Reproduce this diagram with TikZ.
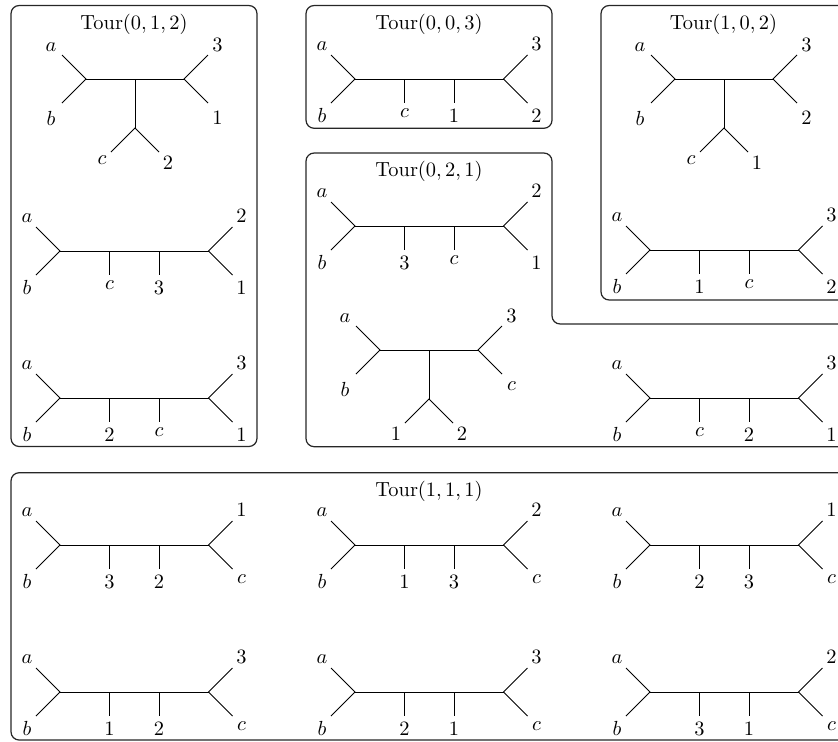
\documentclass[tikz,border=0pt]{standalone}
\tikzset{
  tree/.style={line width=0.45pt, black},
  tourbox/.style={line width=0.6pt, draw=black!85, rounded corners=4pt},
  lab/.style={inner sep=0pt, outer sep=0pt},
  tourtitle/.style={anchor=base, inner sep=0pt},
}
% caterpillar tree: name, x, y, tick1, tick2, right-top, right-bottom
\newcommand\cattree[7]{%
\begin{scope}[shift={(#2,#3)}]
  \coordinate (#1L) at (0,0);
  \coordinate (#1R) at (148.5,0);
  \coordinate (#1T1) at (49.5,0);
  \coordinate (#1T2) at (99,0);
  \coordinate (#1ea) at (-24,-24);
  \coordinate (#1eb) at (-24,24);
  \coordinate (#1ec) at (172.5,-24);
  \coordinate (#1ed) at (172.5,24);
  \coordinate (#1e1) at (49.5,24);
  \coordinate (#1e2) at (99,24);
  \draw[tree] (#1ea) -- (#1L) -- (#1eb);
  \draw[tree] (#1L) -- (#1R);
  \draw[tree] (#1ec) -- (#1R) -- (#1ed);
  \draw[tree] (#1T1) -- (#1e1);
  \draw[tree] (#1T2) -- (#1e2);
  \node[lab,anchor=south] (#1la) at (-33,-28.5) {$a$};
  \node[lab,anchor=north] (#1lb) at (-33,29.5) {$b$};
  \node[lab,anchor=north] (#1l1) at (49.5,29.5) {#4};
  \node[lab,anchor=north] (#1l2) at (99,29.5) {#5};
  \node[lab,anchor=south] (#1lc) at (181.5,-28.5) {#6};
  \node[lab,anchor=north] (#1ld) at (181.5,29.5) {#7};
\end{scope}}
% T-shaped tree: name, x, y, right-top, right-bottom, lower-left, lower-right
\newcommand\ttree[7]{%
\begin{scope}[shift={(#2,#3)}]
  \coordinate (#1L) at (0,0);
  \coordinate (#1R) at (98,0);
  \coordinate (#1M) at (49,0);
  \coordinate (#1B) at (49,49);
  \coordinate (#1ea) at (-24,-24);
  \coordinate (#1eb) at (-24,24);
  \coordinate (#1ec) at (122,-24);
  \coordinate (#1ed) at (122,24);
  \coordinate (#1ee) at (25,73);
  \coordinate (#1ef) at (73,73);
  \draw[tree] (#1ea) -- (#1L) -- (#1eb);
  \draw[tree] (#1L) -- (#1R);
  \draw[tree] (#1ec) -- (#1R) -- (#1ed);
  \draw[tree] (#1M) -- (#1B);
  \draw[tree] (#1ee) -- (#1B) -- (#1ef);
  \node[lab,anchor=south] (#1la) at (-35,-27.5) {$a$};
  \node[lab,anchor=north] (#1lb) at (-35,32) {$b$};
  \node[lab,anchor=south] (#1lc) at (131.5,-27.5) {#4};
  \node[lab,anchor=north] (#1ld) at (131.5,31.5) {#5};
  \node[lab,anchor=north] (#1le) at (16,77) {#6};
  \node[lab,anchor=north] (#1lf) at (82,77) {#7};
\end{scope}}
\begin{document}
\begin{tikzpicture}[x=0.49pt, y=-0.49pt]
  \useasboundingbox (0,0) rectangle (838,741);
  \clip (0,0) rectangle (838,741);
  % boxes
  \draw[tourbox] (11,5.5) rectangle (257,446.5);
  \draw[tourbox] (306,5.5) rectangle (552,128.3);
  \draw[tourbox] (601,5.5) rectangle (846,300);
  \draw[tourbox] (306,153) -- (552,153) -- (552,324) -- (846,324) -- (846,446.7) -- (306,446.7) -- cycle;
  \draw[tourbox] (11,472.7) rectangle (846,740);
  % titles
  \node[tourtitle] (t012) at (134,29.5) {Tour$(0,1,2)$};
  \node[tourtitle] (t003) at (429,29.5) {Tour$(0,0,3)$};
  \node[tourtitle] (t102) at (723.5,29.5) {Tour$(1,0,2)$};
  \node[tourtitle] (t021) at (429,176.5) {Tour$(0,2,1)$};
  \node[tourtitle] (t111) at (429,496.5) {Tour$(1,1,1)$};
  % Tour(0,1,2)
  \ttree{A}{86}{79}{3}{1}{$c$}{2}
  \cattree{B}{60}{251}{$c$}{3}{2}{1}
  \cattree{C}{60}{398}{2}{$c$}{3}{1}
  % Tour(0,0,3)
  \cattree{D}{355}{79}{$c$}{1}{3}{2}
  % Tour(1,0,2)
  \ttree{E}{675}{79}{3}{2}{$c$}{1}
  \cattree{F}{650}{250}{1}{$c$}{3}{2}
  % Tour(0,2,1)
  \cattree{G}{355}{226}{3}{$c$}{2}{1}
  \ttree{H}{380}{350}{3}{$c$}{1}{2}
  \cattree{I}{650}{398}{$c$}{2}{3}{1}
  % Tour(1,1,1)
  \cattree{J}{60}{545}{3}{2}{1}{$c$}
  \cattree{K}{355}{545}{1}{3}{2}{$c$}
  \cattree{M}{650}{545}{2}{3}{1}{$c$}
  \cattree{N}{60}{692}{1}{2}{3}{$c$}
  \cattree{O}{355}{692}{2}{1}{3}{$c$}
  \cattree{P}{650}{692}{3}{1}{2}{$c$}
\end{tikzpicture}
\end{document}
